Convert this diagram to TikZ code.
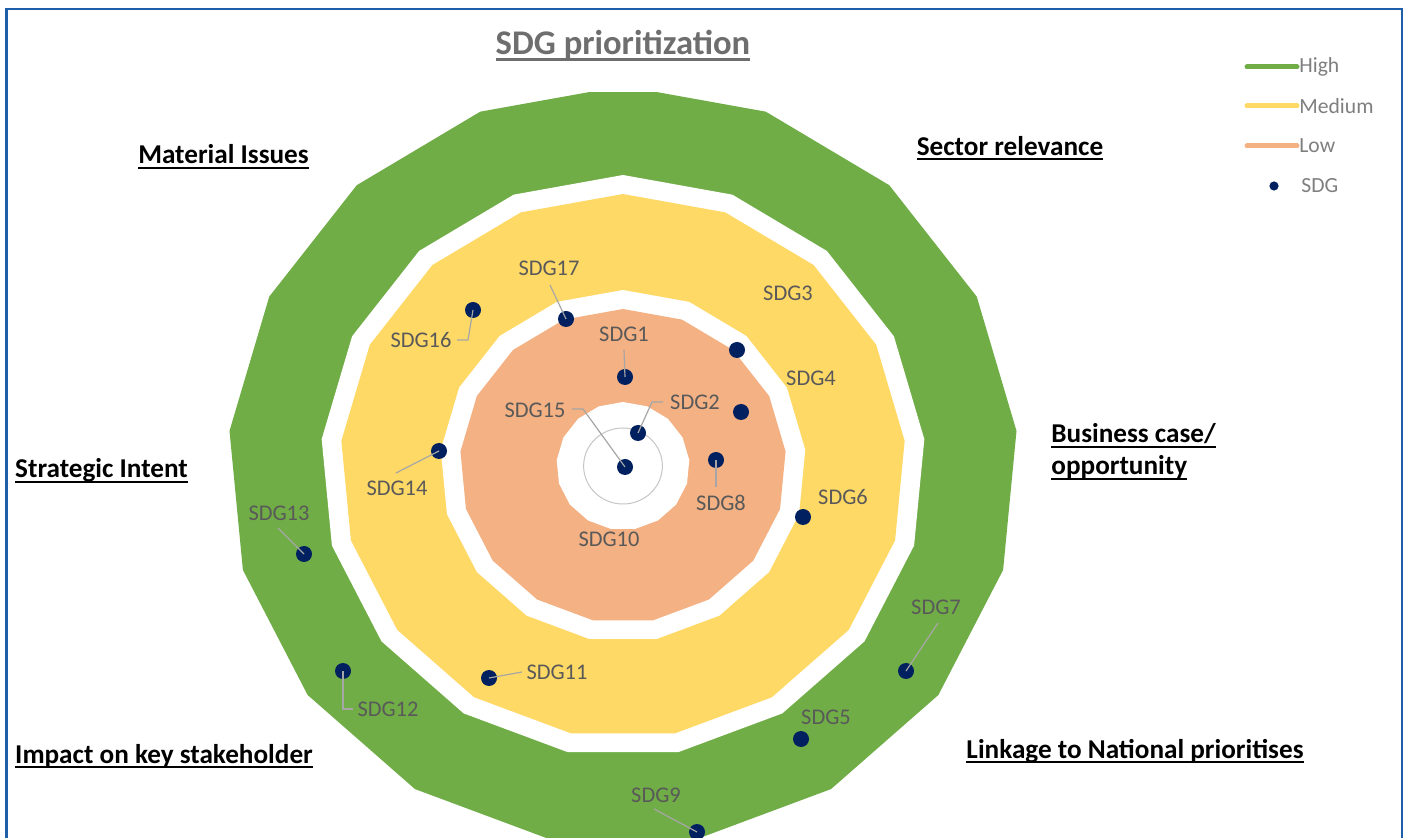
\documentclass[tikz,border=0pt]{standalone}
\usepackage{fontspec}
\setmainfont{Carlito}
\definecolor{hgreen}{HTML}{70AD47}
\definecolor{myellow}{HTML}{FFD966}
\definecolor{lorange}{HTML}{F4B183}
\definecolor{navyc}{HTML}{002060}
\definecolor{lblgray}{HTML}{595959}
\definecolor{ttlgray}{HTML}{6E6E6E}
\definecolor{leggray}{HTML}{7F7F7F}
\definecolor{framec}{HTML}{1F5FAA}
\definecolor{leadc}{HTML}{A6A6A6}
\newsavebox\ulbox
\newcommand{\ulin}[1]{\sbox\ulbox{#1}\leavevmode\rlap{\rule[-0.17em]{\wd\ulbox}{0.075em}}\usebox\ulbox}
\tikzset{
  sdgdot/.style={circle, fill=navyc, inner sep=0pt, minimum size=8pt},
  legdot/.style={circle, fill=navyc, inner sep=0pt, minimum size=4.6pt},
  sdglbl/.style={inner sep=0pt, text=lblgray, font=\fontsize{11.2}{13}\selectfont},
  catlbl/.style={inner sep=0pt, anchor=base, text=black, font=\bfseries\fontsize{13.6}{16}\selectfont},
  leglbl/.style={inner sep=0pt, anchor=west, text=leggray, font=\fontsize{10.8}{12}\selectfont},
  leader/.style={draw=leadc, line width=0.6pt},
  legline/.style={line width=2.5pt, line cap=round}
}
\begin{document}
\begin{tikzpicture}[x=0.5pt,y=-0.5pt]
\useasboundingbox (0,0) rectangle (1407,838);
\fill[white] (0,0) rectangle (1407,838);
% rings
\begin{scope}
\clip (0,93) rectangle (1407,838);
\begin{scope}[shift={(623,466)}, xscale=1.04]
\fill[hgreen] plot[samples=18,domain=0:360] ({380*sin(\x)},{-380*cos(\x)}) -- cycle;
\fill[white] plot[samples=18,domain=0:360] ({291*sin(\x)},{-291*cos(\x)}) -- cycle;
\fill[myellow] plot[samples=18,domain=0:360] ({272*sin(\x)},{-272*cos(\x)}) -- cycle;
\fill[white] plot[samples=18,domain=0:360] ({176*sin(\x)},{-176*cos(\x)}) -- cycle;
\fill[lorange] plot[samples=18,domain=0:360] ({157*sin(\x)},{-157*cos(\x)}) -- cycle;
\fill[white] plot[samples=18,domain=0:360] ({64*sin(\x)},{-64*cos(\x)}) -- cycle;
\end{scope}
\end{scope}
\draw[gray!45, line width=0.5pt] (623,466) ellipse [x radius=19.7pt, y radius=19pt];
% frame
\draw[framec, line width=1.3pt] (6.7,840) -- (6.7,9) -- (1402,9) -- (1402,840);
% title
\node[inner sep=0pt, anchor=base, text=ttlgray, font=\bfseries\fontsize{17.3}{20}\selectfont] (title) at (623,55) {\ulin{SDG prioritization}};
% category labels
\node[catlbl] (mat) at (223.5,164) {\ulin{Material Issues}};
\node[catlbl] (sec) at (1010,155.5) {\ulin{Sector relevance}};
\node[catlbl] (str) at (101.5,478) {\ulin{Strategic Intent}};
\node[catlbl] (imp) at (164,763) {\ulin{Impact on key stakeholder}};
\node[catlbl, anchor=base west] (bc1) at (1051,443) {\ulin{Business case/}};
\node[catlbl, anchor=base west] (bc2) at (1051,475) {\ulin{opportunity}};
\node[catlbl] (lnk) at (1135,758) {\ulin{Linkage to National prioritises}};
% legend
\draw[legline, hgreen] (1247,67) -- (1297,67);
\draw[legline, myellow] (1247,106) -- (1297,106);
\draw[legline, lorange] (1247,146) -- (1297,146);
\node[legdot] (ldot) at (1274,186) {};
\node[leglbl] (lh) at (1299,67) {High};
\node[leglbl] (lm) at (1299,106) {Medium};
\node[leglbl] (ll) at (1299,146) {Low};
\node[leglbl] (ls) at (1301,186) {SDG};
% dots
\node[sdgdot] (d17) at (566,319) {};
\node[sdgdot] (d16) at (473,310) {};
\node[sdgdot] (d1) at (625,377) {};
\node[sdgdot] (d15) at (625,467) {};
\node[sdgdot] (d2) at (638,433) {};
\node[sdgdot] (d3) at (737,350) {};
\node[sdgdot] (d4) at (741,412) {};
\node[sdgdot] (d8) at (716,460) {};
\node[sdgdot] (d6) at (803,517) {};
\node[sdgdot] (d14) at (439,451) {};
\node[sdgdot] (d13) at (304,554) {};
\node[sdgdot] (d12) at (343,671) {};
\node[sdgdot] (d11) at (489,678) {};
\node[sdgdot] (d9) at (697,832) {};
\node[sdgdot] (d5) at (801,739) {};
\node[sdgdot] (d7) at (906,671) {};
% labels
\node[sdglbl] (l17) at (549,268) {SDG17};
\node[sdglbl] (l16) at (421,340) {SDG16};
\node[sdglbl] (l1) at (624,334) {SDG1};
\node[sdglbl] (l15) at (535,410) {SDG15};
\node[sdglbl] (l2) at (695,402) {SDG2};
\node[sdglbl] (l3) at (788,293) {SDG3};
\node[sdglbl] (l4) at (811,378) {SDG4};
\node[sdglbl] (l8) at (721,503) {SDG8};
\node[sdglbl] (l10) at (609,539) {SDG10};
\node[sdglbl] (l6) at (843,497) {SDG6};
\node[sdglbl] (l14) at (397,488) {SDG14};
\node[sdglbl] (l13) at (279,513) {SDG13};
\node[sdglbl] (l12) at (388,709) {SDG12};
\node[sdglbl] (l11) at (557,672) {SDG11};
\node[sdglbl] (l9) at (656,795) {SDG9};
\node[sdglbl] (l5) at (826,717) {SDG5};
\node[sdglbl] (l7) at (936,607) {SDG7};
% leader coordinates
\coordinate (c17) at (550,285);
\coordinate (c16) at (457,340);
\coordinate (e16) at (468,340);
\coordinate (c1) at (624,350);
\coordinate (c15) at (572,409);
\coordinate (e15) at (583,409);
\coordinate (c2) at (663,402);
\coordinate (e2) at (652,402);
\coordinate (c8) at (716,487);
\coordinate (c14) at (396,473);
\coordinate (c13) at (278,528);
\coordinate (e12) at (343,709);
\coordinate (c12) at (353,709);
\coordinate (c11) at (522,672);
\coordinate (c9) at (654,809);
\coordinate (c7) at (938,623);
% leaders
\draw[leader] (c17) -- (d17.center);
\draw[leader] (c16) -- (e16) -- (d16.center);
\draw[leader] (c1) -- (d1.center);
\draw[leader] (c15) -- (e15) -- (d15.center);
\draw[leader] (c2) -- (e2) -- (d2.center);
\draw[leader] (d8.center) -- (c8);
\draw[leader] (c14) -- (d14.center);
\draw[leader] (c13) -- (d13.center);
\draw[leader] (d12.center) -- (e12) -- (c12);
\draw[leader] (d11.center) -- (c11);
\draw[leader] (c9) -- (d9.center);
\draw[leader] (c7) -- (d7.center);
\end{tikzpicture}
\end{document}
